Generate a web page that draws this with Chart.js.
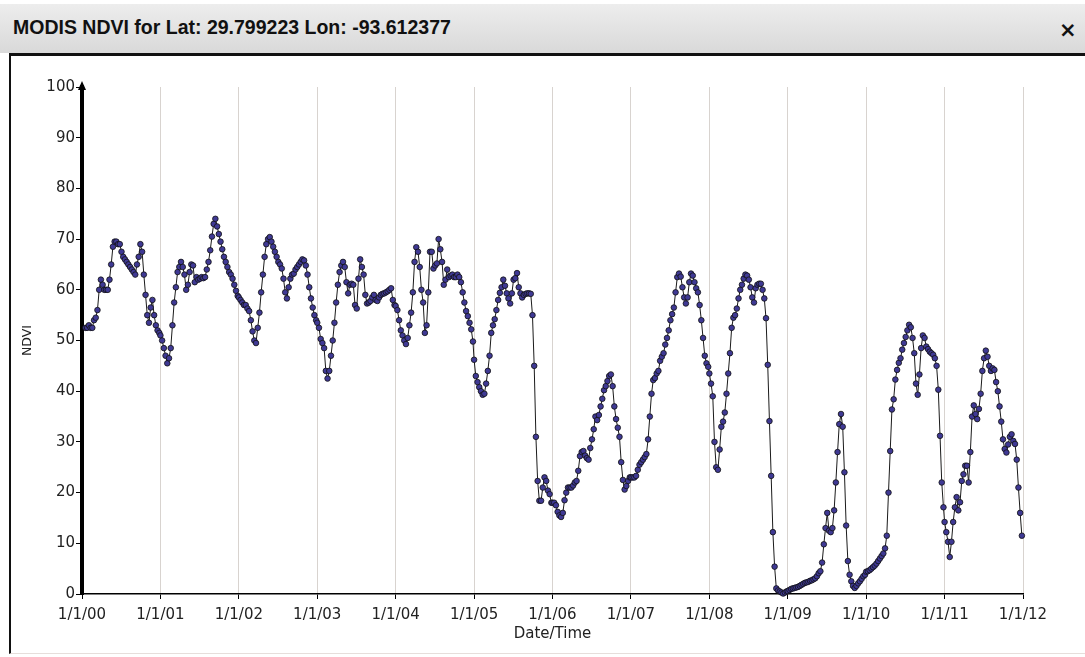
<!DOCTYPE html>
<html>
<head>
<meta charset="utf-8">
<title>MODIS NDVI</title>
<script src="https://cdn.jsdelivr.net/npm/chart.js@4.4.1/dist/chart.umd.min.js"></script>
<style>
  html, body { margin: 0; padding: 0; background: #fff; width: 1085px; height: 657px; overflow: hidden; }
  #titlebar { position: absolute; left: 0; top: 4px; width: 1085px; height: 49px; background: linear-gradient(#ededed, #d9d9d9); }
  #titlebar .title { position: absolute; left: 13px; top: 12px; line-height: 24px; font: bold 19.5px "Liberation Sans", Arial, sans-serif; color: #111; }
  #titlebar .close { position: absolute; left: 1059px; top: 14px; line-height: 24px; font: bold 21px "DejaVu Sans", sans-serif; color: #111; }
  #panel { position: absolute; left: 9px; top: 53px; width: 1080px; height: 597px; border-top: 3px solid #111; border-left: 2px solid #111; border-bottom: 1px solid #e6dedb; background: #fff; }
  #ndvi-chart { position: absolute; left: 0; top: 0; }
</style>
</head>
<body>
<div id="titlebar">
  <span class="title">MODIS NDVI for Lat: 29.799223 Lon: -93.612377</span>
  <span class="close">×</span>
</div>
<div id="panel"></div>
<canvas id="ndvi-chart" width="1085" height="657"></canvas>
<script>
// 8-day composite days of year
const doys = [1, 9, 17, 25, 33, 41, 49, 57, 65, 73, 81, 89, 97, 105, 113, 121,
  129, 137, 145, 153, 161, 169, 177, 185, 193, 201, 209, 217, 225, 233, 241,
  249, 257, 265, 273, 281, 289, 297, 305, 313, 321, 329, 337, 345, 353, 361];

// NDVI values, one array per year
const ndvi2000 = [null, null, 52.5, 52.5, 53, 52.5, 52.5, 54, 54.5, 56, 60, 62, 61, 60, 60, 60, 62, 65, 68.5, 69.5, 69.5, 69, 69, 67.5, 66.5, 66, 65.5, 65, 64.5, 64, 63.5, 63, 65, 66.5, 69, 67.5, 63, 59, 55, 53.5, 56.5, 58, 55, 53, 52, 51.5];
const ndvi2001 = [51, 50, 48.5, 47, 45.5, 46.5, 48.5, 53, 57.5, 60.5, 63.5, 64.5, 65.5, 64.5, 63, 60, 61, 63.5, 65, 64.8, 61.5, 62.5, 62, 62.2, 62.5, 62.3, 62.5, 64, 65.5, 67.8, 70.5, 73, 74, 72.5, 71, 69.5, 68, 66.5, 65.5, 64.5, 63.5, 63, 62.2, 61, 59.8, 58.8];
const ndvi2002 = [58.5, 58, 57.5, 57, 57, 56.3, 55.8, 54, 51.8, 50, 49.5, 52.5, 55.5, 59.5, 63, 66.5, 69, 70, 70.4, 69.5, 68.5, 67.5, 66.5, 65.5, 65, 64.2, 62.2, 59.5, 58.3, 60.5, 62.2, 63, 63.2, 64, 64.5, 65, 65.5, 66, 65.8, 64.8, 63, 60.5, 58.3, 56.5, 55, 54];
const ndvi2003 = [53.5, 52.5, 50.3, 49.5, 48.5, 44, 42.5, 44, 47, 50, 53.5, 57.5, 61, 63.5, 64.8, 65.5, 64.5, 61.5, 59.3, 61, 61.2, 61, 57, 56.3, 62.2, 66, 64.5, 63, 59, 57.3, 57.5, 57.8, 58.5, 59, 58, 57.8, 58.5, 59, 59.2, 59.3, 59.5, 59.7, 60, 60.3, 58, 57];
const ndvi2004 = [56.8, 56, 54, 52, 51, 50, 49.3, 50.5, 53, 55.5, 59.5, 65.5, 68.4, 67.5, 64.5, 60, 57.5, 51.5, 53, 59.5, 67.5, 67.5, 64.2, 64.8, 65.2, 70, 68, 65.5, 61, 62, 64, 62.5, 62.8, 63, 62.5, 62.5, 63, 62.5, 61.5, 59.5, 57.5, 55.8, 54.8, 53.5, 52.2, 49.8];
const ndvi2005 = [46.2, 43, 41.8, 40.8, 40, 39.3, 39.5, 41.5, 44, 47, 51.5, 53, 54.2, 56, 58, 59.4, 60.5, 62, 60.8, 59.3, 58.3, 57.3, 59.3, 62, 62.3, 63.3, 60.5, 59.3, 58.5, 59, 59.2, 59.3, 59.3, 59.2, 55, 45, 31, 22.3, 18.4, 18.4, 21, 23, 22.3, 20.4, 19.7, 18];
const ndvi2006 = [18, 18, 17.5, 16.2, 15.5, 15.2, 16, 18.5, 20, 21, 21, 21, 21.4, 22, 22.3, 24.3, 27.2, 28, 28.2, 27.3, 26.8, 26.5, 28.8, 30.5, 32.5, 35, 34.3, 35.3, 37, 38.5, 40.2, 41, 42, 43, 43.3, 41, 37, 34.5, 32.8, 31, 26, 22.5, 20.6, 21.3, 22.3, 23];
const ndvi2007 = [23, 23, 23, 23.3, 24.5, 25.5, 26, 26.5, 27, 27.6, 30.5, 35, 39.5, 42.2, 42.6, 43.5, 44, 46, 46.8, 47.5, 49.2, 50.5, 52, 54, 55.2, 56.5, 59.5, 62.5, 63.2, 62.6, 60.5, 58.5, 57.3, 58.5, 61.5, 63.2, 62.8, 61.5, 60.3, 59.5, 57, 54, 50.5, 47, 45.5, 44.8];
const ndvi2008 = [43.5, 41.5, 39, 30, 25, 24.5, 28.5, 33, 34, 35.8, 39.5, 43.5, 47.5, 52.5, 54.5, 55, 56.3, 58.3, 60, 61, 62.2, 63, 62.8, 62, 60.5, 58.5, 57.5, 60.3, 61, 61.2, 61.2, 60, 58.3, 54.4, 45.2, 34.1, 23.3, 12.2, 5.4, 1.1, 0.7, 0.5, 0.3, 0.1, 0.3, 0.5];
const ndvi2009 = [0.6, 0.8, 1, 1.1, 1.2, 1.3, 1.4, 1.6, 1.8, 2, 2.2, 2.3, 2.4, 2.6, 2.7, 2.9, 3.1, 3.5, 4.1, 4.5, 6.2, 9.8, 13, 16, 12.5, 12.2, 13, 16.5, 22, 28, 33.5, 35.5, 33, 24, 13.5, 6.5, 3.8, 2.5, 1.6, 1.2, 1.6, 2.1, 2.5, 3, 3.5, 3.8];
const ndvi2010 = [4.4, 4.5, 4.7, 5, 5.3, 5.6, 6, 6.5, 7, 7.5, 8, 9, 11.5, 20, 28.2, 36.4, 38.4, 42.3, 44.2, 45.6, 46.5, 48.2, 49.5, 50.7, 52, 53.1, 52.6, 50.5, 47.5, 41.5, 39.3, 43.3, 48.5, 51, 50.5, 48.8, 48.3, 47.8, 47.5, 47.2, 46.5, 45, 40.3, 31.2, 22, 17.1];
const ndvi2011 = [14.2, 12.2, 10.3, 7.3, 10.3, 14.2, 17.1, 19.1, 16.5, 18.1, 22.3, 23.6, 25.3, 25.3, 22, 28, 35, 37.2, 35.5, 34.5, 36.5, 39.5, 44, 46.5, 48, 46.8, 45, 44, 44.5, 44.2, 41.8, 40, 37, 34, 30.5, 28.6, 27.9, 29.5, 31, 31.5, 30.2, 29.6, 26.5, 21, 16, 11.5];

const years = [2000, 2001, 2002, 2003, 2004, 2005, 2006, 2007, 2008, 2009, 2010, 2011];
const yearValues = [ndvi2000, ndvi2001, ndvi2002, ndvi2003, ndvi2004, ndvi2005,
  ndvi2006, ndvi2007, ndvi2008, ndvi2009, ndvi2010, ndvi2011];

// Axis ticks
const xTicks = [2000, 2001, 2002, 2003, 2004, 2005, 2006, 2007, 2008, 2009, 2010, 2011, 2012];
const yTicks = [0, 10, 20, 30, 40, 50, 60, 70, 80, 90, 100];

// Build points as fractional years
const points = [];
years.forEach((year, i) => {
  yearValues[i].forEach((value, k) => {
    if (value === null) return;
    points.push({ x: year + (doys[k] - 1) / 365.25, y: value });
  });
});

function tickLabel(value) {
  return "1/1/" + String(value % 100).padStart(2, "0");
}

// Small arrow head on top of the y axis
const axisArrow = {
  id: "axisArrow",
  afterDraw(chart) {
    const { ctx, chartArea } = chart;
    ctx.save();
    ctx.fillStyle = "#000";
    ctx.beginPath();
    ctx.moveTo(chartArea.left, chartArea.top - 6);
    ctx.lineTo(chartArea.left - 4, chartArea.top + 3);
    ctx.lineTo(chartArea.left + 4, chartArea.top + 3);
    ctx.closePath();
    ctx.fill();
    ctx.restore();
  },
};

const ctx = document.getElementById("ndvi-chart").getContext("2d");

const data = {
  datasets: [
    {
      label: "NDVI",
      data: points,
      borderColor: "#1a1a1a",
      borderWidth: 1,
      pointRadius: 2.8,
      pointBackgroundColor: "#3f3994",
      pointBorderColor: "#101010",
      pointBorderWidth: 0.8,
      tension: 0,
      clip: 6,
    },
  ],
};

const options = {
  responsive: false,
  animation: false,
  devicePixelRatio: 1,
  layout: {
    padding: { top: 87, right: 62, bottom: 13, left: 0 },
  },
  scales: {
    x: {
      type: "linear",
      min: xTicks[0],
      max: xTicks[xTicks.length - 1],
      afterFit: function (scale) {
        scale.height = 50;
      },
      afterBuildTicks: function (scale) {
        scale.ticks = xTicks.map((v) => ({ value: v }));
      },
      ticks: {
        autoSkip: false,
        maxRotation: 0,
        padding: 7,
        color: "#222",
        font: { family: "DejaVu Sans", size: 15 },
        callback: function (value) {
          return tickLabel(value);
        },
      },
      grid: {
        color: "#d8d3cf",
        lineWidth: 1,
        drawTicks: true,
        tickLength: 5,
        tickColor: "#000",
      },
      border: { color: "#000", width: 1.5 },
      title: {
        display: true,
        text: "Date/Time",
        color: "#222",
        font: { family: "DejaVu Sans", size: 15 },
        padding: { top: 0, bottom: 1 },
      },
    },
    y: {
      min: yTicks[0],
      max: yTicks[yTicks.length - 1],
      afterFit: function (scale) {
        scale.width = 82;
      },
      afterBuildTicks: function (scale) {
        scale.ticks = yTicks.map((v) => ({ value: v }));
      },
      ticks: {
        padding: 1,
        color: "#222",
        font: { family: "DejaVu Sans", size: 15 },
      },
      grid: {
        drawOnChartArea: false,
        drawTicks: true,
        tickLength: 6,
        tickColor: "#000",
      },
      border: { color: "#000", width: 4 },
      title: {
        display: true,
        text: "NDVI",
        color: "#222",
        font: { family: "DejaVu Sans", size: 12.5 },
        padding: { top: 20, bottom: 0 },
      },
    },
  },
  plugins: {
    legend: { display: false },
    tooltip: { enabled: false },
  },
};

new Chart(ctx, {
  type: "line",
  data: data,
  options: options,
  plugins: [axisArrow],
});
</script>
</body>
</html>
